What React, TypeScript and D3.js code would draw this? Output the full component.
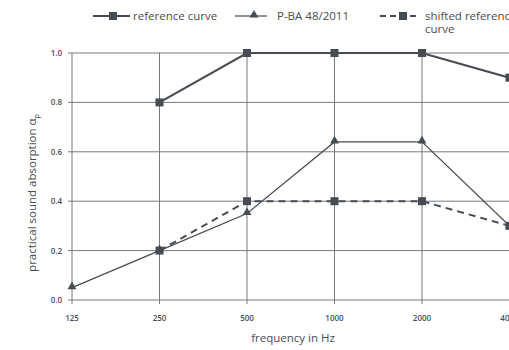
import * as d3 from "d3";
import * as React from "react";

const freqs = ["125", "250", "500", "1000", "2000", "4000"];
const referenceCurve: (number | null)[] = [null, 0.8, 1.0, 1.0, 1.0, 0.9];
const pba: (number | null)[] = [0.05, 0.2, 0.35, 0.64, 0.64, 0.3];
const shiftedReference: (number | null)[] = [null, 0.2, 0.4, 0.4, 0.4, 0.3];
const yTicks = [0, 0.2, 0.4, 0.6, 0.8, 1.0];

const W = 509;
const H = 350;
const ink = "#474c52";
const grid = "#75797e";
const font = "'Open Sans', sans-serif";

export default function App() {
  const x = d3.scalePoint<string>().domain(freqs).range([72, 509.5]);
  const y = d3.scaleLinear().domain([0, 1]).range([300, 53]);

  const line = d3
    .line<[string, number | null]>()
    .defined((d) => d[1] != null)
    .x((d) => x(d[0])!)
    .y((d) => y(d[1] as number));

  const pts = (vals: (number | null)[]) =>
    freqs.map((f, i) => [f, vals[i]] as [string, number | null]);

  const square = d3.symbol(d3.symbolSquare, 64)();
  const tri = d3.symbol(d3.symbolTriangle, 34)();

  return (
    <svg width={W} height={H} style={{ position: "absolute", left: 0, top: 0 }}>
      <rect width={W} height={H} fill="#fff" />
      {/* grid */}
      {yTicks.map((t) => (
        <g key={t}>
          <line x1={68} x2={W} y1={y(t)} y2={y(t)} stroke={grid} strokeWidth={1} />
          <text x={62} y={y(t) + 3} textAnchor="end" fontFamily={font} fontSize={8} fontWeight={600} fill={ink}>
            {t.toFixed(1)}
          </text>
        </g>
      ))}
      {freqs.map((f) => (
        <g key={f}>
          <line x1={x(f)} x2={x(f)} y1={53} y2={304} stroke={grid} strokeWidth={1} />
          <text x={x(f)} y={321} textAnchor="middle" fontFamily={font} fontSize={8} fontWeight={600} fill={ink}>
            {f}
          </text>
        </g>
      ))}
      <text x={293} y={342} textAnchor="middle" fontFamily={font} fontSize={11.5} fill={ink}>
        frequency in Hz
      </text>
      <text transform="translate(36,193) rotate(-90)" textAnchor="middle" fontFamily={font} fontSize={11.5} fill={ink}>
        practical sound absorption α
        <tspan fontSize={7} dy={3}>p</tspan>
      </text>

      {/* series */}
      <path d={line(pts(shiftedReference))!} fill="none" stroke={ink} strokeWidth={2} strokeDasharray="7,5" />
      <path d={line(pts(pba))!} fill="none" stroke={ink} strokeWidth={1.2} />
      <path d={line(pts(referenceCurve))!} fill="none" stroke={ink} strokeWidth={2.2} />
      {pts(shiftedReference).filter((d) => d[1] != null).map((d) => (
        <path key={"s" + d[0]} d={square} transform={`translate(${x(d[0])},${y(d[1] as number)})`} fill={ink} />
      ))}
      {pts(pba).filter((d) => d[1] != null).map((d) => (
        <path key={"p" + d[0]} d={tri} transform={`translate(${x(d[0])},${y(d[1] as number) - 1})`} fill={ink} />
      ))}
      {pts(referenceCurve).filter((d) => d[1] != null).map((d) => (
        <path key={"r" + d[0]} d={square} transform={`translate(${x(d[0])},${y(d[1] as number)})`} fill={ink} />
      ))}

      {/* legend */}
      <g fontFamily={font} fontSize={11.5} fill={ink}>
        <line x1={93} x2={130} y1={16} y2={16} stroke={ink} strokeWidth={2} />
        <path d={square} transform="translate(113,16)" fill={ink} />
        <text x={133} y={20}>reference curve</text>
        <line x1={235} x2={267} y1={16} y2={16} stroke={ink} strokeWidth={1.2} />
        <path d={tri} transform="translate(254,15)" fill={ink} />
        <text x={277} y={20}>P-BA 48/2011</text>
        <line x1={380} x2={418} y1={16} y2={16} stroke={ink} strokeWidth={2} strokeDasharray="6,4" />
        <path d={square} transform="translate(403,16)" fill={ink} />
        <text x={425} y={20}>shifted reference</text>
        <text x={425} y={33}>curve</text>
      </g>
    </svg>
  );
}
